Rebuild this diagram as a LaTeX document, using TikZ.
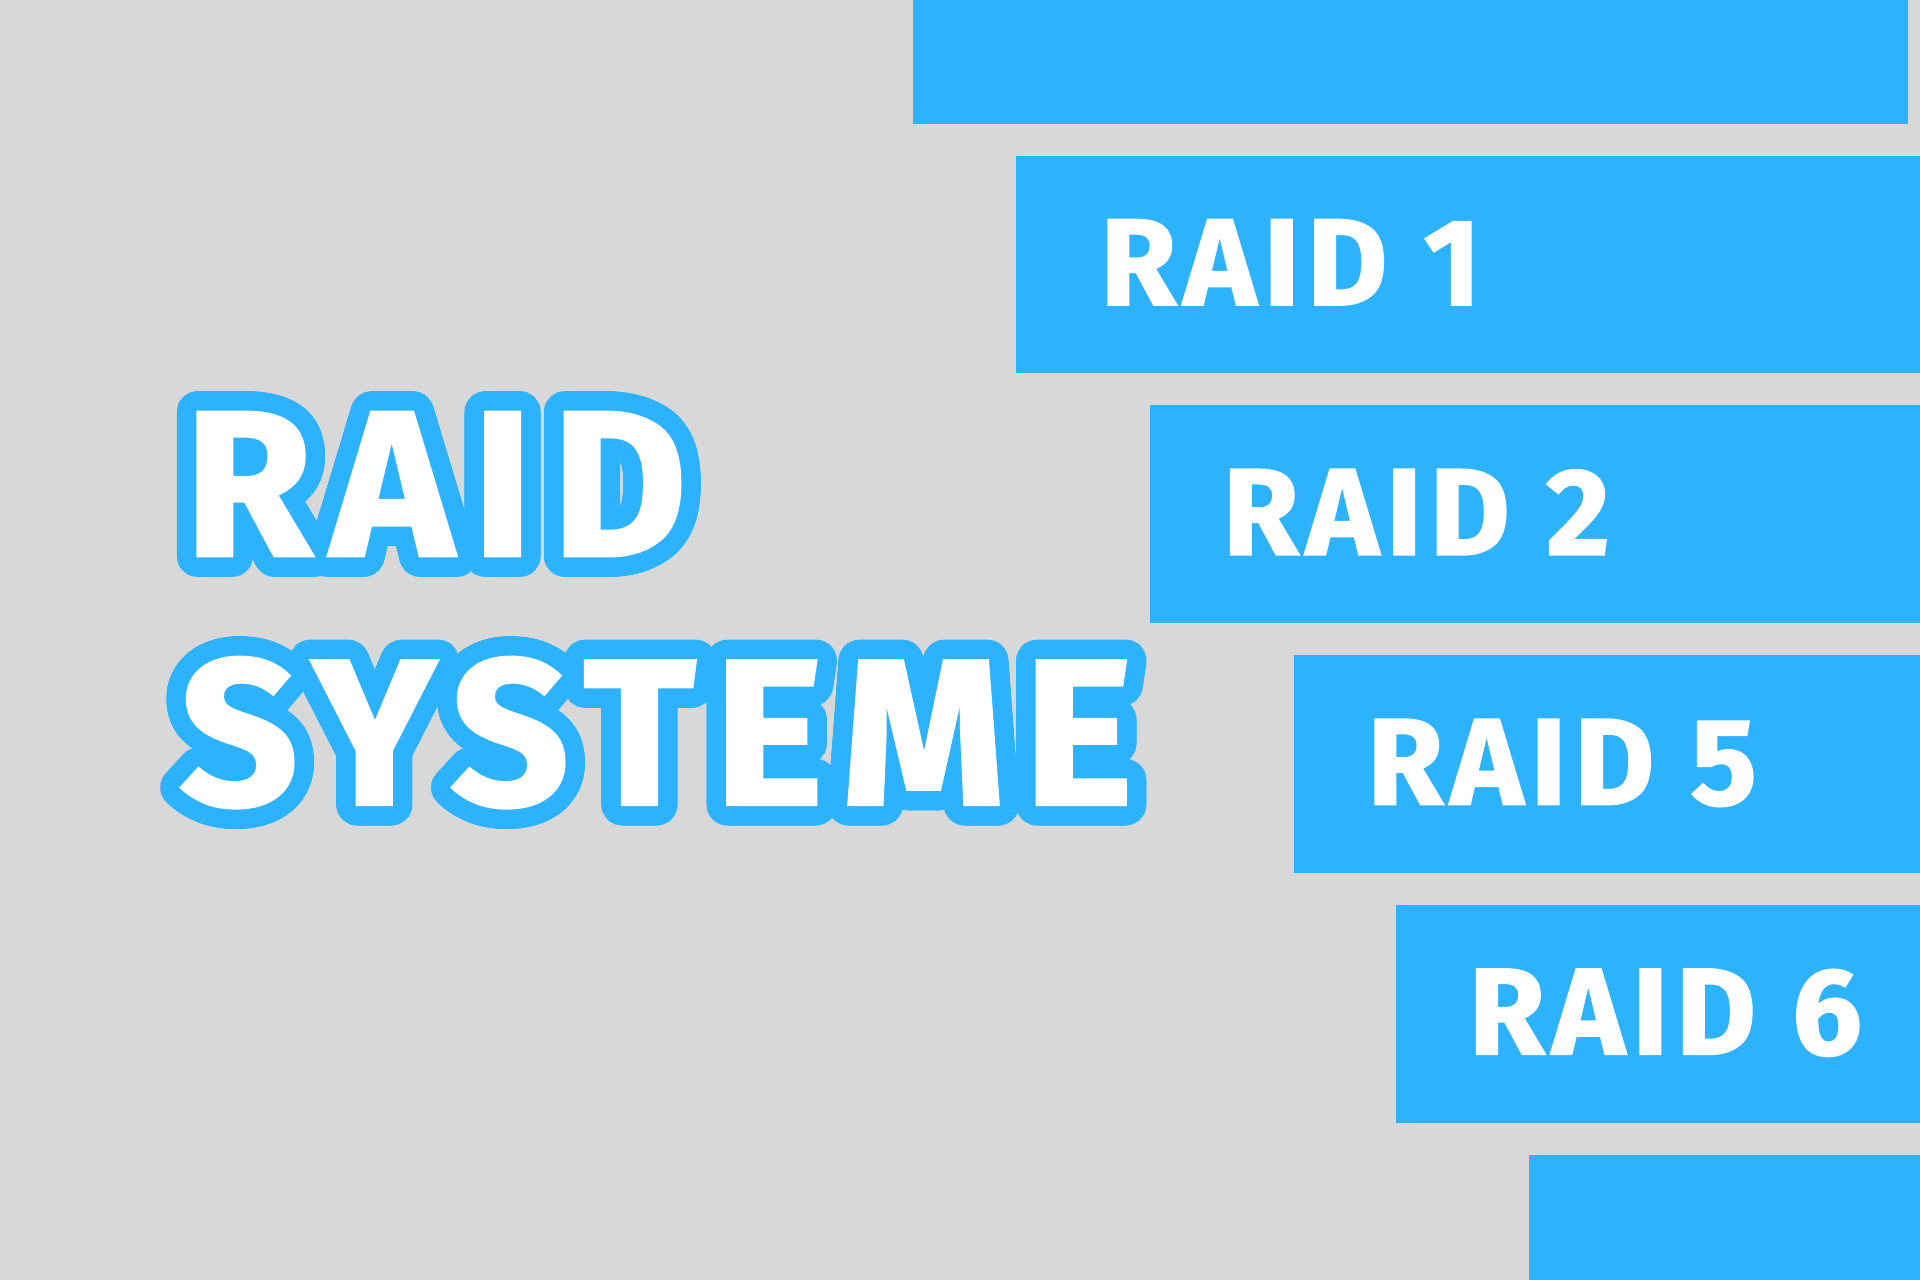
\documentclass[tikz,border=0pt]{standalone}
\usepackage{fontspec}
\usepackage{contour}
\newfontfamily\heavy{Fira Sans}[UprightFont={* Bold}, LetterSpace=9, FakeBold=1.5]
\newfontfamily\heavyspaced{Fira Sans}[UprightFont={* Bold}, LetterSpace=6, FakeBold=1.5]
\definecolor{raidblue}{HTML}{2DB2FD}
\definecolor{raidgray}{HTML}{D8D8D8}
\contournumber{64}
\contourlength{5.5pt}
\tikzset{
  bar/.style={fill=raidblue, draw=none},
  barlabel/.style={anchor=base west, inner sep=0pt, text=white, font=\heavyspaced\fontsize{35}{35}\selectfont},
  title/.style={anchor=base west, inner sep=0pt, text=white, font=\heavy\fontsize{59}{59}\selectfont}
}
\begin{document}
\begin{tikzpicture}[x=0.012245cm, y=-0.012245cm]
    \fill[raidgray] (0,0) rectangle (1568,1045);
    \useasboundingbox (0,0) rectangle (1568,1045);

    % stepped bars
    \fill[bar] (746,0) rectangle (1558,101);
    \fill[bar] (830,127) rectangle (1568,305);
    \fill[bar] (939,331) rectangle (1568,509);
    \fill[bar] (1057,535) rectangle (1568,713);
    \fill[bar] (1140,739) rectangle (1568,917);
    \fill[bar] (1249,943) rectangle (1568,1045);

    \node[barlabel] (raid1) at (898,249) {RAID 1};
    \node[barlabel] (raid2) at (998,453) {RAID 2};
    \node[barlabel] (raid5) at (1116,657) {RAID 5};
    \node[barlabel] (raid6) at (1199,861) {RAID 6};

    % title
    \node[title] (raid) at (150,454) {\contour{raidblue}{RAID}};
    \node[title] (systeme) at (146,657) {\contour{raidblue}{SYSTEME}};
\end{tikzpicture}
\end{document}
